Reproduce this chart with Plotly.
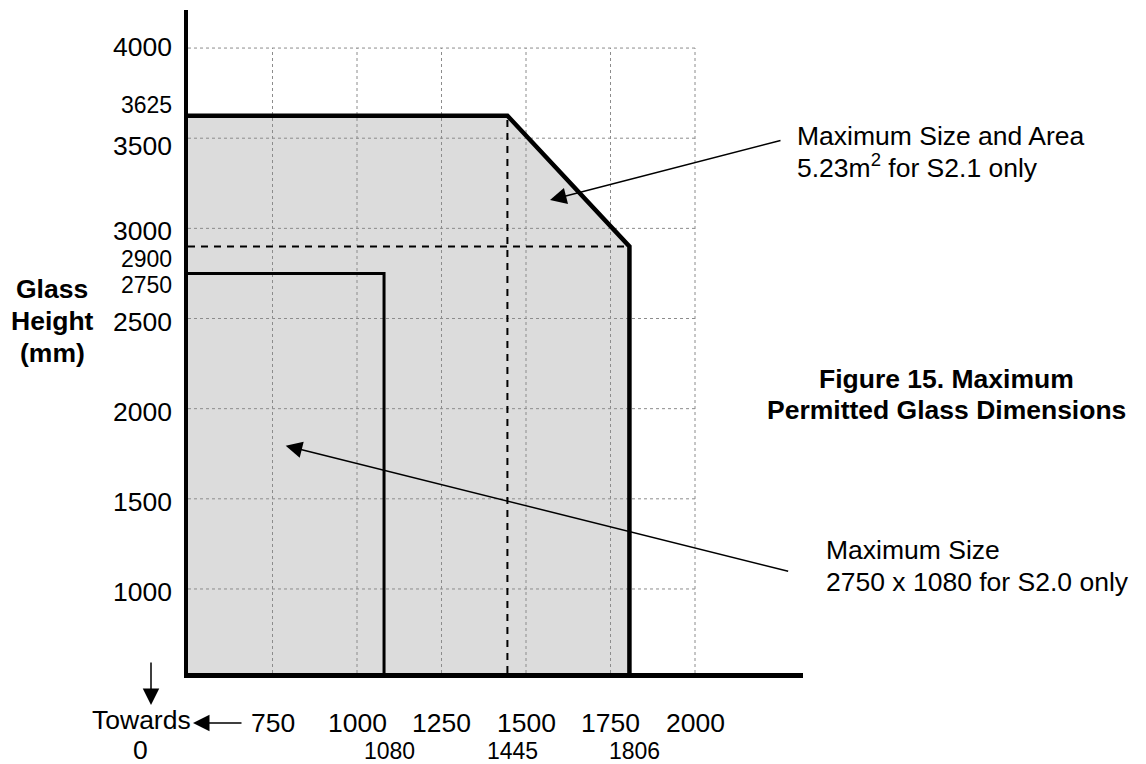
import plotly.graph_objects as go

# ---------------- data (mm) ----------------
s21_corner_width = 1445      # start of the chamfer (S2.1)
s21_max_width = 1806         # max width (S2.1)
s21_max_height = 3625        # max height (S2.1)
s21_corner_height = 2900     # height at max width (S2.1)
s20_max_width = 1080         # max width (S2.0)
s20_max_height = 2750        # max height (S2.0)

x_grid = [500, 750, 1000, 1250, 1500, 1750, 2000]
y_grid = [1000, 1500, 2000, 2500, 3000, 3500, 4000]
x_tick_labels = [750, 1000, 1250, 1500, 1750, 2000]
y_tick_labels = [1000, 1500, 2000, 2500, 3000, 3500, 4000]
x_key_labels = [1080, 1445, 1806]
y_key_labels = [2750, 2900, 3625]

# ---------------- layout geometry ----------------
W, H = 1146, 764
ML, MR, MT, MB = 188, 343, 10, 91
PW, PH = W - ML - MR, H - MT - MB
XRANGE = [500, 2319.5]
YRANGE = [534, 4211]
x0, y0 = XRANGE[0], YRANGE[0]

FONT = "Liberation Sans, Arial, Helvetica, sans-serif"
FILL = "#dcdcdc"
GRID = "#8c8c8c"
FS_MAIN = 26.5
FS_KEY = 23


def px(xp):
    return (xp - ML) / PW


def py(yp):
    return (H - MB - yp) / PH


fig = go.Figure()

# shaded permitted region (S2.1)
fig.add_trace(go.Scatter(
    x=[x0, x0, s21_corner_width, s21_max_width, s21_max_width, x0],
    y=[y0, s21_max_height, s21_max_height, s21_corner_height, y0, y0],
    mode="lines", fill="toself", fillcolor=FILL,
    line=dict(width=0, color=FILL), hoverinfo="skip", showlegend=False))

# dotted grid (limited to the 500-2000 / up-to-4000 block)
gx, gy = [], []
for yv in y_grid:
    gx += [x_grid[0], x_grid[-1], None]
    gy += [yv, yv, None]
for xv in x_grid[1:]:
    gx += [xv, xv, None]
    gy += [y0, y_grid[-1], None]
fig.add_trace(go.Scatter(x=gx, y=gy, mode="lines",
                         line=dict(color=GRID, width=1, dash="dot"),
                         hoverinfo="skip", showlegend=False))

# dashed construction lines
fig.add_trace(go.Scatter(
    x=[x0, s21_max_width, None, s21_corner_width, s21_corner_width],
    y=[s21_corner_height, s21_corner_height, None, y0, s21_max_height],
    mode="lines", line=dict(color="black", width=2, dash="7px,6px"),
    hoverinfo="skip", showlegend=False))

# S2.0 outline
fig.add_trace(go.Scatter(
    x=[x0, s20_max_width, s20_max_width],
    y=[s20_max_height, s20_max_height, y0],
    mode="lines", line=dict(color="black", width=3),
    hoverinfo="skip", showlegend=False))

# S2.1 outline
fig.add_trace(go.Scatter(
    x=[x0, s21_corner_width, s21_max_width, s21_max_width],
    y=[s21_max_height, s21_max_height, s21_corner_height, y0],
    mode="lines", line=dict(color="black", width=4.5),
    hoverinfo="skip", showlegend=False))

ann = []
# y labels
y_nudge = {3500: -8, 4000: 1}
for v in y_tick_labels:
    ann.append(dict(x=0, xref="paper", y=v, yref="y", xanchor="right",
                    yanchor="middle", xshift=-14, yshift=y_nudge.get(v, -3),
                    text=str(v), showarrow=False,
                    font=dict(size=FS_MAIN, family=FONT, color="black")))
yk_nudge = {3625: 11, 2900: -13, 2750: -12}
for v in y_key_labels:
    ann.append(dict(x=0, xref="paper", y=v, yref="y", xanchor="right",
                    yanchor="middle", xshift=-14, yshift=yk_nudge[v],
                    text=str(v), showarrow=False,
                    font=dict(size=FS_KEY, family=FONT, color="black")))
# x labels
for v in x_tick_labels:
    ann.append(dict(x=v, xref="x", y=0, yref="paper", xanchor="center",
                    yanchor="middle", yshift=-50, text=str(v), showarrow=False,
                    font=dict(size=FS_MAIN, family=FONT, color="black")))
for v in x_key_labels:
    ann.append(dict(x=v, xref="x", y=0, yref="paper", xanchor="center",
                    yanchor="middle", xshift=5, yshift=-78, text=str(v),
                    showarrow=False,
                    font=dict(size=FS_KEY, family=FONT, color="black")))


def text_line(txt, xp, yp, anchor="center", bold=False):
    if bold:
        txt = "<b>" + txt + "</b>"
    ann.append(dict(x=px(xp), y=py(yp), xref="paper", yref="paper",
                    xanchor=anchor, yanchor="middle", align=anchor,
                    text=txt, showarrow=False,
                    font=dict(size=FS_MAIN, family=FONT, color="black")))


# axis title
text_line("Glass", 52, 289, bold=True)
text_line("Height", 52, 321, bold=True)
text_line("(mm)", 52, 353, bold=True)
# figure caption
text_line("Figure 15. Maximum", 946, 379, bold=True)
text_line("Permitted Glass Dimensions", 946, 410, bold=True)
# callouts
text_line("Maximum Size and Area", 795, 136, anchor="left")
text_line("5.23m<sup>2</sup> for S2.1 only", 795, 166, anchor="left")
text_line("Maximum Size", 824, 550, anchor="left")
text_line("2750 x 1080 for S2.0 only", 824, 582, anchor="left")
# broken-axis hint
text_line("Towards", 141, 720)
text_line("0", 140, 750)

# arrows
arrow_style = dict(showarrow=True, arrowhead=2, arrowsize=2.2,
                   arrowwidth=1.5, arrowcolor="black", text="", standoff=0)
ann.append(dict(x=1571, y=3157, xref="x", yref="y", ax=232, ay=-60,
                **arrow_style))
ann.append(dict(x=789, y=1795, xref="x", yref="y", ax=504, ay=126,
                **arrow_style))
ann.append(dict(x=px(151), y=py(705), xref="paper", yref="paper", ax=0,
                ay=-44, **arrow_style))
ann.append(dict(x=px(193), y=py(723), xref="paper", yref="paper", ax=50,
                ay=0, **arrow_style))

fig.update_layout(
    width=W, height=H, autosize=False,
    margin=dict(l=ML, r=MR, t=MT, b=MB, pad=0),
    paper_bgcolor="white", plot_bgcolor="white",
    showlegend=False,
    xaxis=dict(range=XRANGE, showgrid=False, zeroline=False,
               showticklabels=False, ticks="", showline=True,
               linecolor="black", linewidth=4.5, fixedrange=True),
    yaxis=dict(range=YRANGE, showgrid=False, zeroline=False,
               showticklabels=False, ticks="", showline=True,
               linecolor="black", linewidth=4, fixedrange=True),
    annotations=ann,
)

fig.write_html(
    "out.html",
    config={"displayModeBar": False},
    post_script="document.body.style.margin='0';"
                "document.body.style.overflow='hidden';",
)
